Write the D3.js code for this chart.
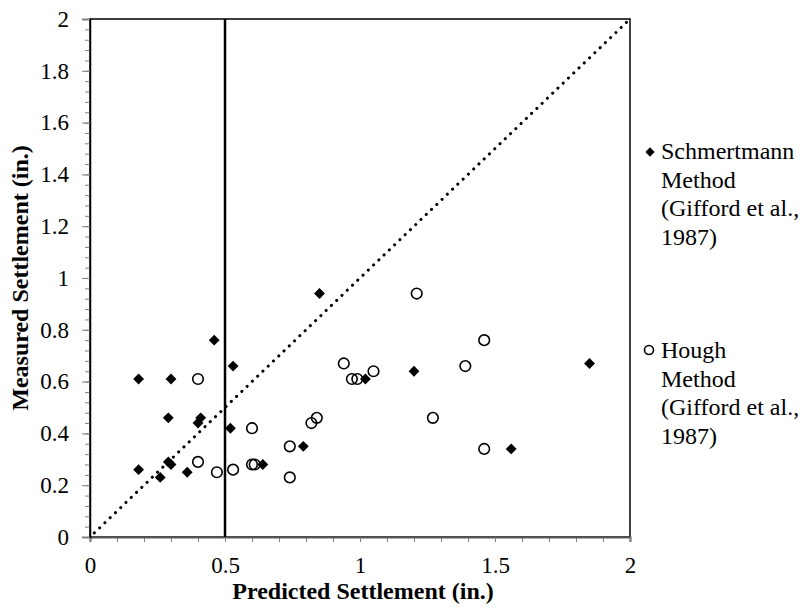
<!DOCTYPE html>
<html>
<head>
<meta charset="utf-8">
<script src="https://cdn.jsdelivr.net/npm/d3@7"></script>
<style>
  html, body { margin: 0; padding: 0; background: #fff; }
  svg { display: block; font-family: "Liberation Serif", "Times New Roman", serif; }
</style>
</head>
<body>
<svg id="chart" width="806" height="608"></svg>
<script>
// Predicted vs. measured settlement (inches)
const schmertmannPredicted = [0.18, 0.30, 0.46, 0.53, 0.29, 0.41, 0.40, 0.52, 0.29, 0.30, 0.18, 0.36, 0.26, 0.64, 0.79, 0.85, 1.02, 1.20, 1.85, 1.56];
const schmertmannMeasured  = [0.61, 0.61, 0.76, 0.66, 0.46, 0.46, 0.44, 0.42, 0.29, 0.28, 0.26, 0.25, 0.23, 0.28, 0.35, 0.94, 0.61, 0.64, 0.67, 0.34];

const houghPredicted = [0.40, 0.60, 0.74, 0.40, 0.47, 0.53, 0.60, 0.61, 0.74, 0.94, 0.97, 0.99, 1.05, 1.39, 0.84, 0.82, 1.27, 1.46, 1.46, 1.21];
const houghMeasured  = [0.61, 0.42, 0.35, 0.29, 0.25, 0.26, 0.28, 0.28, 0.23, 0.67, 0.61, 0.61, 0.64, 0.66, 0.46, 0.44, 0.46, 0.76, 0.34, 0.94];

const xTickLabels = [0, 0.5, 1, 1.5, 2];
const yTickLabels = [0, 0.2, 0.4, 0.6, 0.8, 1, 1.2, 1.4, 1.6, 1.8, 2];
const referenceX = 0.5;   // vertical reference line
const oneToOne = [[0, 0], [2, 2]];

const legendSchmertmann = ["Schmertmann", "Method", "(Gifford et al.,", "1987)"];
const legendHough = ["Hough", "Method", "(Gifford et al.,", "1987)"];

const svg = d3.select("#chart");
const plotLeft = 90, plotRight = 630, plotTop = 19, plotBottom = 537;

const x = d3.scaleLinear().domain([0, 2]).range([plotLeft, plotRight]);
const y = d3.scaleLinear().domain([0, 2]).range([plotBottom, plotTop]);

const tickFont = 23;
const textFont = 24;
const serif = "'Liberation Serif', 'Times New Roman', serif";

// plot frame
svg.append("rect")
  .attr("x", plotLeft).attr("y", plotTop)
  .attr("width", plotRight - plotLeft).attr("height", plotBottom - plotTop)
  .attr("fill", "none").attr("stroke", "#000").attr("stroke-width", 1.5);

// minor ticks
const xMinor = d3.range(0, 2.0001, 0.1).map(v => +v.toFixed(2));
const yMinor = d3.range(0, 2.0001, 0.04).map(v => +v.toFixed(2));

svg.append("g")
  .attr("transform", `translate(0,${plotBottom})`)
  .call(d3.axisBottom(x).tickValues(xMinor).tickSize(5).tickFormat(""))
  .call(g => g.select(".domain").remove())
  .call(g => g.selectAll("line").attr("stroke", "#7f7f7f").attr("stroke-width", 1));

svg.append("g")
  .attr("transform", `translate(${plotLeft},0)`)
  .call(d3.axisLeft(y).tickValues(yMinor).tickSize(5).tickFormat(""))
  .call(g => g.select(".domain").remove())
  .call(g => g.selectAll("line").attr("stroke", "#7f7f7f").attr("stroke-width", 1));

// major ticks with labels
svg.append("g")
  .attr("transform", `translate(0,${plotBottom})`)
  .call(d3.axisBottom(x).tickValues(xTickLabels).tickSize(5).tickPadding(15).tickFormat(d3.format("~g")))
  .call(g => g.select(".domain").attr("stroke", "#595959").attr("stroke-width", 2))
  .call(g => g.selectAll("line").attr("stroke", "#7f7f7f"))
  .call(g => g.selectAll("text").attr("fill", "#000").attr("font-size", tickFont).attr("font-family", serif));

svg.append("g")
  .attr("transform", `translate(${plotLeft},0)`)
  .call(d3.axisLeft(y).tickValues(yTickLabels).tickSize(8).tickPadding(13).tickFormat(d3.format("~g")))
  .call(g => g.select(".domain").attr("stroke", "#000").attr("stroke-width", 1.5))
  .call(g => g.selectAll("line").attr("stroke", "#7f7f7f"))
  .call(g => g.selectAll("text").attr("fill", "#000").attr("font-size", tickFont).attr("font-family", serif));

// 1:1 dotted line
svg.append("path")
  .attr("d", d3.line().x(d => x(d[0])).y(d => y(d[1]))(oneToOne))
  .attr("fill", "none")
  .attr("stroke", "#000")
  .attr("stroke-width", 3)
  .attr("stroke-linecap", "round")
  .attr("stroke-dasharray", "0.1 7.2")
  .attr("stroke-dashoffset", -6);

// vertical reference line
svg.append("line")
  .attr("x1", x(referenceX)).attr("x2", x(referenceX))
  .attr("y1", y(0)).attr("y2", y(2))
  .attr("stroke", "#000").attr("stroke-width", 2.5);

// Hough series: open circles
const hough = houghPredicted.map((p, i) => ({ p, m: houghMeasured[i] }));
svg.append("g").selectAll("circle")
  .data(hough).join("circle")
  .attr("cx", d => x(d.p)).attr("cy", d => y(d.m))
  .attr("r", 5.3)
  .attr("fill", "none").attr("stroke", "#000").attr("stroke-width", 1.6);

// Schmertmann series: filled diamonds
const schm = schmertmannPredicted.map((p, i) => ({ p, m: schmertmannMeasured[i] }));
const diamond = d3.symbol().type(d3.symbolDiamond2).size(75);
svg.append("g").selectAll("path")
  .data(schm).join("path")
  .attr("transform", d => `translate(${x(d.p)},${y(d.m)})`)
  .attr("d", diamond)
  .attr("fill", "#000");

// axis titles
svg.append("text")
  .attr("x", 363).attr("y", 599)
  .attr("text-anchor", "middle")
  .attr("font-weight", "bold").attr("font-size", textFont)
  .text("Predicted Settlement (in.)");

svg.append("text")
  .attr("transform", `translate(28,${(plotTop + plotBottom) / 2}) rotate(-90)`)
  .attr("text-anchor", "middle")
  .attr("font-weight", "bold").attr("font-size", textFont)
  .text("Measured Settlement (in.)");

// legend
function legendEntry(lines, y0, marker) {
  const g = svg.append("g");
  if (marker === "diamond") {
    g.append("path")
      .attr("transform", `translate(650,${y0 - 7})`)
      .attr("d", d3.symbol().type(d3.symbolDiamond2).size(55)())
      .attr("fill", "#000");
  } else {
    g.append("circle")
      .attr("cx", 649).attr("cy", y0 - 8).attr("r", 4.5)
      .attr("fill", "none").attr("stroke", "#000").attr("stroke-width", 1.6);
  }
  g.append("text")
    .attr("font-size", textFont)
    .selectAll("tspan").data(lines).join("tspan")
    .attr("x", 661).attr("y", (d, i) => y0 + i * 28.5)
    .text(d => d);
}
legendEntry(legendSchmertmann, 159, "diamond");
legendEntry(legendHough, 358, "circle");
</script>
</body>
</html>
